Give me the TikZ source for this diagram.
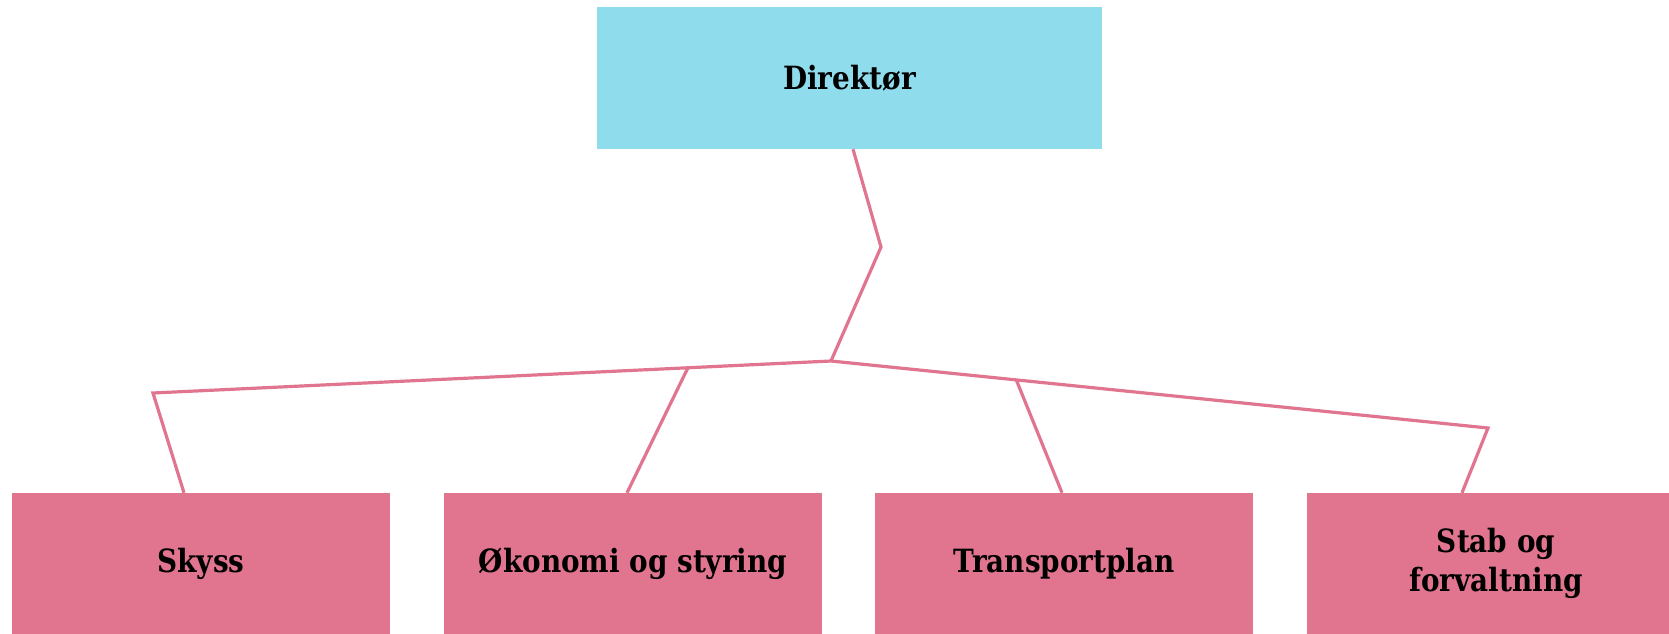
\documentclass[tikz,border=0pt]{standalone}
\usepackage{fontspec}
\setmainfont[FakeStretch=0.87]{DejaVu Serif}
\usetikzlibrary{calc}
\definecolor{boxblue}{HTML}{8FDCEC}
\definecolor{boxpink}{HTML}{E1758F}
\definecolor{linkpink}{HTML}{E1758F}
\begin{document}
\begin{tikzpicture}[x=1pt,y=1pt,
  orgbox/.style={draw=none,minimum width=378pt,minimum height=141pt,inner sep=0pt,
    align=center,font=\fontsize{32}{39}\selectfont\bfseries,text=black},
  topbox/.style={orgbox,fill=boxblue,minimum width=505pt,minimum height=142pt},
  unitbox/.style={orgbox,fill=boxpink},
  link/.style={draw=linkpink,line width=3.2pt,line join=miter}]
\useasboundingbox (0,0) rectangle (1669,-633);
\clip (0,0) rectangle (1669,-633);
\node[topbox] (dir) at (849.5,-78) {Direktør};
\node[unitbox] (sk) at (201,-563.5) {Skyss};
\node[unitbox] (ok) at (633,-563.5) {Økonomi og styring};
\node[unitbox] (tp) at (1064,-563.5) {Transportplan};
\node[unitbox] (st) at (1496,-563.5) {Stab og\\forvaltning};
\coordinate (bend) at (881,-247);
\coordinate (junc) at (831,-361);
\coordinate (lc) at (153,-393);
\coordinate (rc) at (1488,-428);
\coordinate (okb) at ($(junc)!0.211!(lc)$);
\coordinate (tpb) at ($(junc)!0.282!(rc)$);
\draw[link] ($(dir.south)+(3.5,0)$) -- (bend) -- (junc);
\draw[link] (junc) -- (lc) -- ($(sk.north)+(-17,0)$);
\draw[link] (junc) -- (rc) -- ($(st.north)+(-34,0)$);
\draw[link] (okb) -- ($(ok.north)+(-6,0)$);
\draw[link] (tpb) -- ($(tp.north)+(-2,0)$);
\end{tikzpicture}
\end{document}
